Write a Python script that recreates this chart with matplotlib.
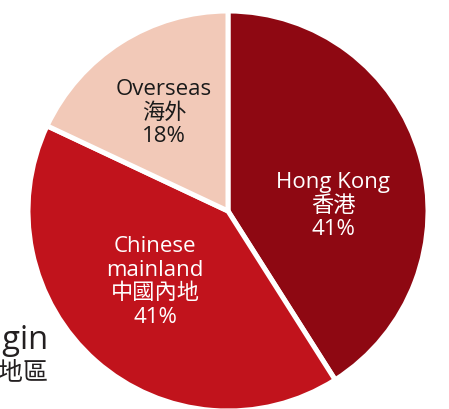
import matplotlib.pyplot as plt

labels_en = ['Hong Kong', 'Chinese\nmainland', 'Overseas']
labels_zh = ['香港', '中國內地', '海外']
shares = [41, 41, 18]
colors = ['#8E0812', '#C1131C', '#F2C9B8']
text_colors = ['white', 'white', '#1A1A1A']

plt.rcParams['font.family'] = ['Open Sans', 'Noto Sans CJK TC', 'DejaVu Sans']

fig = plt.figure(figsize=(4.49, 4.09), dpi=100)
ax = fig.add_axes([0, 0, 1, 1])

ax.pie(shares, colors=colors, startangle=90, counterclock=False,
       center=(228, 198), radius=200,
       wedgeprops=dict(edgecolor='white', linewidth=3.6))

# pie() resets limits, so set them afterwards
ax.set_xlim(0, 449)
ax.set_ylim(0, 409)
ax.set_aspect('equal')
ax.axis('off')

# label positions inside the wedges (pixel coords, y up)
label_pos = [(333, 203), (155, 127), (164, 296)]
for en, zh, s, tc, (x, y) in zip(labels_en, labels_zh, shares, text_colors, label_pos):
    ax.text(x, y, f'{en}\n{zh}\n{s}%', ha='center', va='center', color=tc,
            fontsize=16, linespacing=1.17)

# legend title, partly off the left edge as in the original
ax.text(48, 60, 'Place of Origin', ha='right', va='baseline',
        color='#231F20', fontsize=23.5)
ax.text(48, 35, '來源地區', ha='right', va='center',
        color='#231F20', fontsize=18)

fig.savefig('out.png', dpi=100)
